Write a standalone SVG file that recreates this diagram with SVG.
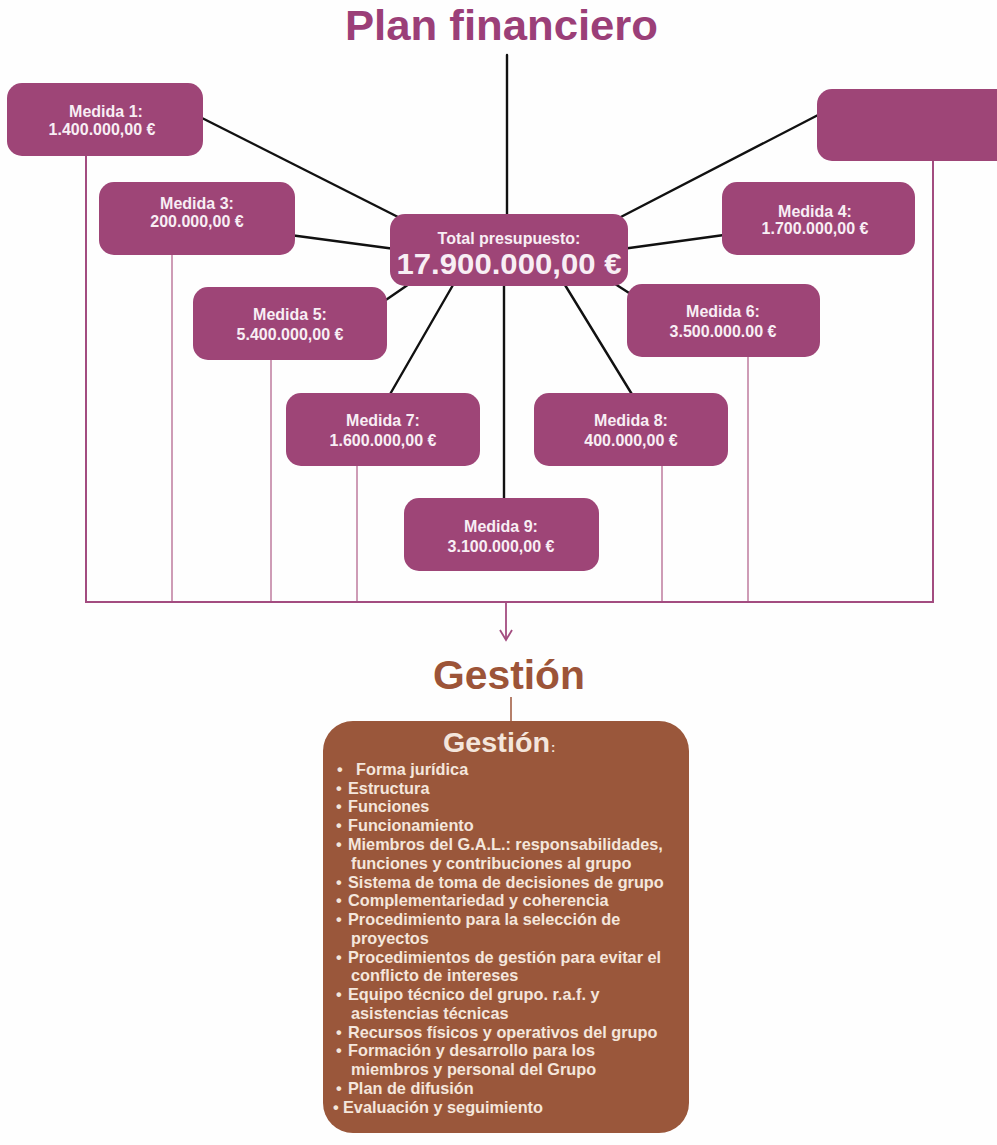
<svg xmlns="http://www.w3.org/2000/svg" width="997" height="1145" viewBox="0 0 997 1145">
<style>
  .bg{fill:#fefefe}
  .title{font-family:"Liberation Sans",Arial,sans-serif;font-weight:bold;fill:#9b3f78}
  .gtitle{font-family:"Liberation Sans",Arial,sans-serif;font-weight:bold;fill:#9c5438}
  .box{fill:#9e4577}
  .btxt{font-family:"Liberation Sans",Arial,sans-serif;font-weight:bold;font-size:16px;fill:#f8eef4;text-anchor:middle}
  .big{font-size:30px}
  .blk{stroke:#111;stroke-width:2.4;fill:none;stroke-linecap:round}
  .thin{stroke:#b4678f;stroke-width:1.3;fill:none}
  .outer{stroke:#a34c80;stroke-width:2;fill:none}
  .gbox{fill:#9a573b}
  .ltxt{font-family:"Liberation Sans",Arial,sans-serif;font-weight:bold;font-size:16.3px;fill:#f4e6dc}
  .head{font-size:27px}
  .colon{font-size:13px}
</style>
<defs>
  <marker id="chev" markerWidth="14" markerHeight="14" refX="11" refY="7" orient="auto" markerUnits="userSpaceOnUse" viewBox="0 0 14 14">
    <polyline points="1,1 11,7 1,13" fill="none" stroke="#a34c80" stroke-width="1.8"/>
  </marker>
</defs>
<rect class="bg" x="0" y="0" width="997" height="1145"/>

<text class="title" x="345" y="40" font-size="42" textLength="313" lengthAdjust="spacingAndGlyphs">Plan financiero</text>

<g id="connectors">
  <line class="blk" x1="507" y1="55" x2="507" y2="216"/>
  <line class="blk" x1="200" y1="117" x2="400" y2="218"/>
  <line class="blk" x1="820" y1="114" x2="615" y2="220"/>
  <line class="blk" x1="290" y1="235" x2="395" y2="249"/>
  <line class="blk" x1="724" y1="235" x2="622" y2="249"/>
  <line class="blk" x1="412" y1="282" x2="380" y2="304"/>
  <line class="blk" x1="453" y1="285" x2="389" y2="396"/>
  <line class="blk" x1="504" y1="285" x2="504" y2="500"/>
  <line class="blk" x1="565" y1="285" x2="633" y2="396"/>
  <line class="blk" x1="612" y1="282" x2="640" y2="300"/>
  <line class="outer" x1="86" y1="156" x2="86" y2="602"/>
  <line class="outer" x1="933" y1="160" x2="933" y2="602"/>
  <line class="thin" x1="172" y1="255" x2="172" y2="601"/>
  <line class="thin" x1="271" y1="360" x2="271" y2="601"/>
  <line class="thin" x1="357" y1="466" x2="357" y2="601"/>
  <line class="thin" x1="662" y1="466" x2="662" y2="601"/>
  <line class="thin" x1="748" y1="357" x2="748" y2="601"/>
  <line class="outer" x1="85" y1="602" x2="934" y2="602"/>
  <line stroke="#a34c80" stroke-width="1.8" x1="506" y1="602" x2="506" y2="640" marker-end="url(#chev)"/>
  <line stroke="#9c5438" stroke-width="1.5" x1="511" y1="697" x2="511" y2="722"/>
</g>

<g id="center">
  <rect class="box" x="390" y="214" width="238" height="72" rx="15"/>
  <text class="btxt" x="509" y="244">Total presupuesto:</text>
  <text class="btxt big" x="509" y="274" textLength="225" lengthAdjust="spacingAndGlyphs">17.900.000,00 €</text>
</g>
<g id="medida1">
  <rect class="box" x="7" y="83" width="196" height="73" rx="15"/>
  <text class="btxt" x="106" y="117">Medida 1:</text>
  <text class="btxt" x="102" y="135">1.400.000,00 €</text>
</g>
<g id="topright">
  <rect class="box" x="817" y="89" width="200" height="72" rx="15"/>
</g>
<g id="medida3">
  <rect class="box" x="99" y="182" width="196" height="73" rx="15"/>
  <text class="btxt" x="197" y="209">Medida 3:</text>
  <text class="btxt" x="197" y="227">200.000,00 €</text>
</g>
<g id="medida4">
  <rect class="box" x="722" y="182" width="193" height="73" rx="15"/>
  <text class="btxt" x="815" y="217">Medida 4:</text>
  <text class="btxt" x="815" y="234">1.700.000,00 €</text>
</g>
<g id="medida5">
  <rect class="box" x="193" y="287" width="194" height="73" rx="15"/>
  <text class="btxt" x="290" y="320">Medida 5:</text>
  <text class="btxt" x="290" y="340">5.400.000,00 €</text>
</g>
<g id="medida6">
  <rect class="box" x="627" y="284" width="193" height="73" rx="15"/>
  <text class="btxt" x="723" y="317">Medida 6:</text>
  <text class="btxt" x="723" y="337">3.500.000.00 €</text>
</g>
<g id="medida7">
  <rect class="box" x="286" y="393" width="194" height="73" rx="15"/>
  <text class="btxt" x="383" y="426">Medida 7:</text>
  <text class="btxt" x="383" y="446">1.600.000,00 €</text>
</g>
<g id="medida8">
  <rect class="box" x="534" y="393" width="194" height="73" rx="15"/>
  <text class="btxt" x="631" y="426">Medida 8:</text>
  <text class="btxt" x="631" y="446">400.000,00 €</text>
</g>
<g id="medida9">
  <rect class="box" x="404" y="498" width="195" height="73" rx="15"/>
  <text class="btxt" x="501" y="532">Medida 9:</text>
  <text class="btxt" x="501" y="552">3.100.000,00 €</text>
</g>

<text class="gtitle" x="433" y="689" font-size="40" textLength="152" lengthAdjust="spacingAndGlyphs">Gestión</text>

<g id="gestion">
  <rect class="gbox" x="323" y="721" width="366" height="412" rx="30"/>
  <text class="ltxt head" x="443" y="752" textLength="107" lengthAdjust="spacingAndGlyphs">Gestión</text>
  <text class="ltxt colon" x="551" y="752">:</text>
  <g>
    <text class="ltxt" x="337" y="775">•</text><text class="ltxt" x="356" y="775">Forma jurídica</text>
    <text class="ltxt" x="336" y="794">•</text><text class="ltxt" x="348" y="794">Estructura</text>
    <text class="ltxt" x="336" y="812">•</text><text class="ltxt" x="348" y="812">Funciones</text>
    <text class="ltxt" x="336" y="831">•</text><text class="ltxt" x="348" y="831">Funcionamiento</text>
    <text class="ltxt" x="336" y="850">•</text><text class="ltxt" x="348" y="850">Miembros del G.A.L.: responsabilidades,</text>
    <text class="ltxt" x="351" y="869">funciones y contribuciones al grupo</text>
    <text class="ltxt" x="336" y="888">•</text><text class="ltxt" x="348" y="888">Sistema de toma de decisiones de grupo</text>
    <text class="ltxt" x="336" y="906">•</text><text class="ltxt" x="348" y="906">Complementariedad y coherencia</text>
    <text class="ltxt" x="336" y="925">•</text><text class="ltxt" x="348" y="925">Procedimiento para la selección de</text>
    <text class="ltxt" x="351" y="944">proyectos</text>
    <text class="ltxt" x="336" y="963">•</text><text class="ltxt" x="348" y="963">Procedimientos de gestión para evitar el</text>
    <text class="ltxt" x="351" y="981">conflicto de intereses</text>
    <text class="ltxt" x="336" y="1000">•</text><text class="ltxt" x="348" y="1000">Equipo técnico del grupo. r.a.f. y</text>
    <text class="ltxt" x="351" y="1019">asistencias técnicas</text>
    <text class="ltxt" x="336" y="1038">•</text><text class="ltxt" x="348" y="1038">Recursos físicos y operativos del grupo</text>
    <text class="ltxt" x="336" y="1056">•</text><text class="ltxt" x="348" y="1056">Formación y desarrollo para los</text>
    <text class="ltxt" x="351" y="1075">miembros y personal del Grupo</text>
    <text class="ltxt" x="336" y="1094">•</text><text class="ltxt" x="348" y="1094">Plan de difusión</text>
    <text class="ltxt" x="333" y="1113">•</text><text class="ltxt" x="343" y="1113">Evaluación y seguimiento</text>
  </g>
</g>
</svg>
